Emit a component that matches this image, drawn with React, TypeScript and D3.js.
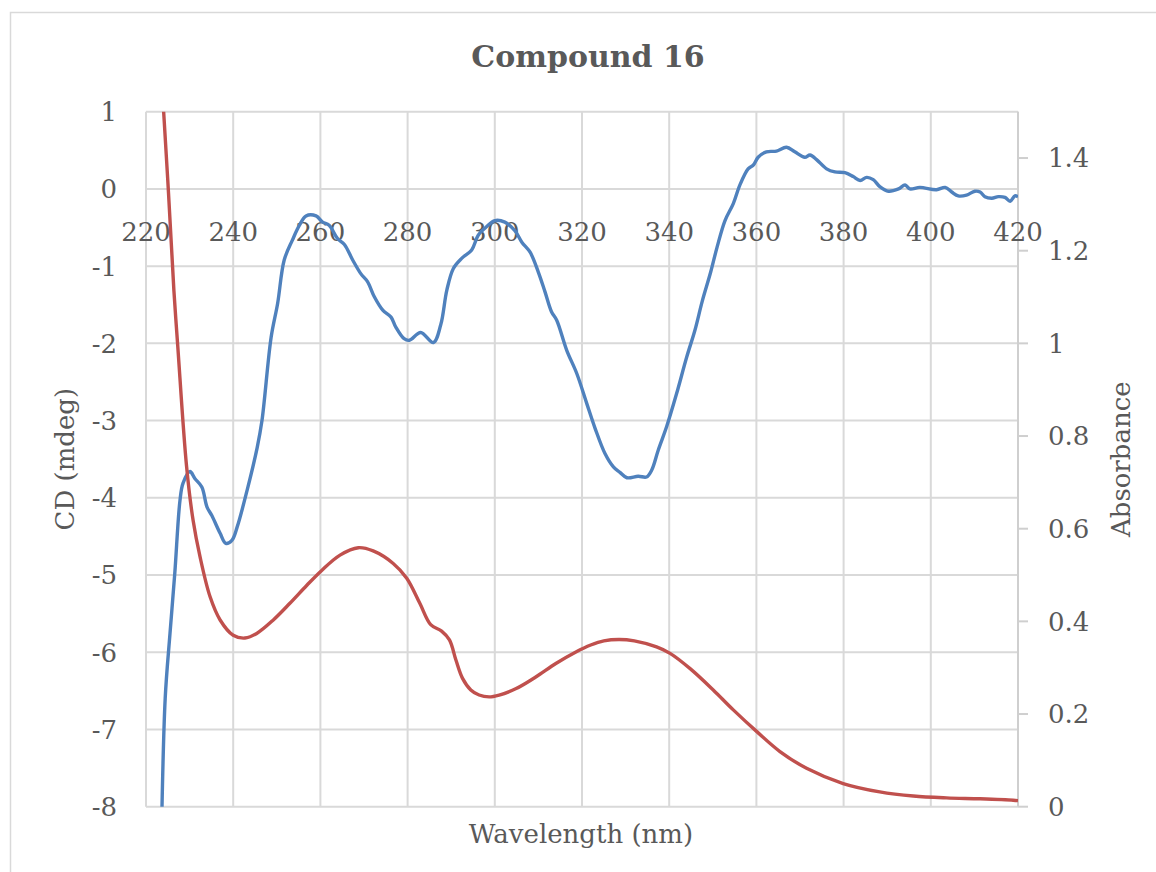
import React from "react";
import * as d3 from "d3";

// CD spectrum (mdeg) vs wavelength (nm)
const cdWavelength = [
  223.5, 224.4, 225.5, 226.6, 227.8, 228.5, 230.1, 231.2, 232.8, 234.0, 235.1, 237.0, 238.3, 239.7,
  240.9, 243.2, 245.5, 246.6, 248.7, 250.2, 251.7, 253.6, 255.2, 256.7, 259.0, 260.5, 262.0, 263.9,
  265.5, 267.4, 269.3, 270.8, 272.4, 274.3, 276.2, 277.3, 279.2, 280.4, 283.0, 285.9, 287.6, 289.0,
  290.5, 292.4, 294.7, 296.2, 298.1, 300.0, 302.3, 304.6, 306.2, 308.1, 310.0, 311.5, 313.0, 314.2,
  316.5, 318.8, 321.1, 323.0, 325.3, 327.2, 328.7, 330.3, 332.9, 334.8, 336.0, 337.5, 339.4, 341.7,
  344.0, 345.9, 347.6, 349.5, 351.0, 352.8, 354.7, 356.2, 358.1, 359.3, 360.4, 362.3, 364.6, 366.9,
  368.8, 371.1, 372.3, 373.8, 376.1, 378.0, 380.3, 382.2, 383.8, 385.3, 386.8, 388.3, 390.3, 392.6,
  394.1, 395.2, 397.5, 401.3, 403.3, 404.8, 406.3, 408.2, 410.1, 411.3, 412.4, 414.0, 415.5, 417.0,
  418.2, 419.3, 420.0,
];
const cdValues = [
  -8.5, -6.6, -5.76, -4.98, -4.03, -3.81, -3.66, -3.75, -3.86, -4.12, -4.23, -4.46, -4.59, -4.55,
  -4.38, -3.9, -3.35, -3.0, -1.92, -1.48, -0.92, -0.66, -0.47, -0.35, -0.35, -0.43, -0.47, -0.64,
  -0.72, -0.92, -1.1, -1.2, -1.4, -1.57, -1.66, -1.79, -1.94, -1.96, -1.86, -1.99, -1.76, -1.31,
  -1.03, -0.9, -0.79, -0.6, -0.49, -0.41, -0.43, -0.54, -0.69, -0.82, -1.08, -1.33, -1.59, -1.7,
  -2.09, -2.39, -2.78, -3.1, -3.43, -3.6, -3.67, -3.74, -3.72, -3.73, -3.64, -3.38, -3.08, -2.65,
  -2.18, -1.83, -1.45, -1.08, -0.75, -0.41, -0.19, 0.05, 0.26, 0.31, 0.41, 0.48, 0.49, 0.54,
  0.48, 0.41, 0.44, 0.38, 0.26, 0.22, 0.21, 0.16, 0.11, 0.15, 0.12, 0.03, -0.03, 0.0,
  0.05, 0.0, 0.02, -0.01, 0.02, -0.04, -0.09, -0.08, -0.03, -0.04, -0.1, -0.12, -0.1, -0.11,
  -0.16, -0.09, -0.1,
];

// UV absorbance vs wavelength (nm)
const absWavelength = [
  223.0, 225.0, 226.4, 227.3, 229.3, 230.8, 232.4, 234.7, 237.0, 240.0, 242.7, 245.4, 249.2,
  253.0, 256.9, 260.3, 264.5, 268.7, 272.1, 276.7, 279.8, 282.8, 285.3, 287.8, 289.6, 291.1, 292.6,
  294.5, 296.4, 298.7, 301.0, 304.9, 309.4, 314.0, 318.6, 322.0, 325.0, 328.5, 332.0, 337.1, 340.2,
  344.8, 350.1, 354.7, 360.1, 365.4, 371.5, 379.9, 388.3, 396.0, 403.6, 411.3, 418.9, 420.0,
];
const absValues = [
  1.66, 1.351, 1.114, 0.992, 0.735, 0.618, 0.539, 0.453, 0.403, 0.37, 0.364, 0.374, 0.403,
  0.439, 0.478, 0.51, 0.543, 0.559, 0.552, 0.525, 0.493, 0.439, 0.393, 0.379, 0.36, 0.316, 0.277,
  0.252, 0.241, 0.237, 0.241, 0.255, 0.28, 0.309, 0.334, 0.349, 0.358, 0.361, 0.358, 0.345, 0.331,
  0.298, 0.252, 0.209, 0.162, 0.119, 0.083, 0.05, 0.032, 0.023, 0.019, 0.017, 0.014, 0.013,
];

const xTicks = [220, 240, 260, 280, 300, 320, 340, 360, 380, 400, 420];
const cdTicks = [1, 0, -1, -2, -3, -4, -5, -6, -7, -8];
const absTicks = [0, 0.2, 0.4, 0.6, 0.8, 1, 1.2, 1.4];

const titleText = "Compound 16";
const xTitle = "Wavelength (nm)";
const cdTitle = "CD (mdeg)";
const absTitle = "Absorbance";

const FONT = "'DejaVu Serif', serif";
const TEXT = "#595959";
const GRID = "#d9d9d9";

export default function App() {
  const left = 146;
  const right = 1018;
  const top = 111.7;
  const bottom = 806.7;

  const x = d3.scaleLinear().domain([220, 420]).range([left, right]);
  const yCd = d3.scaleLinear().domain([-8, 1]).range([bottom, top]);
  const yAbs = d3.scaleLinear().domain([0, 1.5]).range([bottom, top]);

  const cdLine = d3
    .line<number>()
    .x((_, i) => x(cdWavelength[i]))
    .y((d) => yCd(d))
    .curve(d3.curveCatmullRom.alpha(0.5));
  const absLine = d3
    .line<number>()
    .x((_, i) => x(absWavelength[i]))
    .y((d) => yAbs(d))
    .curve(d3.curveCatmullRom.alpha(0.5));

  return (
    <svg
      width={1156}
      height={872}
      style={{ position: "absolute", left: 0, top: 0, background: "#fff" }}
    >
      <defs>
        <clipPath id="plot-clip">
          <rect x={left} y={top} width={right - left} height={bottom - top} />
        </clipPath>
      </defs>
      <rect x={10.5} y={12.5} width={1170} height={880} fill="#fff" stroke={GRID} strokeWidth={1.5} />

      <text
        x={588}
        y={67}
        textAnchor="middle"
        fontFamily={FONT}
        fontWeight="bold"
        fontSize={30}
        fill={TEXT}
      >
        {titleText}
      </text>

      {/* gridlines */}
      {cdTicks.map((t) => (
        <line key={"h" + t} x1={left} x2={right} y1={yCd(t)} y2={yCd(t)} stroke={GRID} strokeWidth={2} />
      ))}
      {xTicks.map((t) => (
        <line key={"v" + t} x1={x(t)} x2={x(t)} y1={top} y2={bottom} stroke={GRID} strokeWidth={2} />
      ))}

      {/* right axis line and ticks */}
      <line x1={right} x2={right} y1={top} y2={bottom} stroke="#cfcfcf" strokeWidth={2} />
      {absTicks.map((t) => (
        <line key={"rt" + t} x1={right} x2={right + 10} y1={yAbs(t)} y2={yAbs(t)} stroke="#cfcfcf" strokeWidth={2} />
      ))}

      {/* left tick labels */}
      {cdTicks.map((t) => (
        <text
          key={"lt" + t}
          x={117}
          y={yCd(t)}
          dy="0.36em"
          textAnchor="end"
          fontFamily={FONT}
          fontSize={26}
          fill={TEXT}
        >
          {t < 0 ? "-" + Math.abs(t) : String(t)}
        </text>
      ))}

      {/* right tick labels */}
      {absTicks.map((t) => (
        <text
          key={"rl" + t}
          x={1048}
          y={yAbs(t)}
          dy="0.36em"
          textAnchor="start"
          fontFamily={FONT}
          fontSize={26}
          fill={TEXT}
        >
          {d3.format("~g")(t)}
        </text>
      ))}

      {/* wavelength labels hanging below the zero line */}
      {xTicks.map((t) => (
        <text
          key={"xl" + t}
          x={x(t)}
          y={yCd(0) + 52}
          textAnchor="middle"
          fontFamily={FONT}
          fontSize={26}
          fill={TEXT}
        >
          {t}
        </text>
      ))}

      {/* axis titles */}
      <text x={581} y={843} textAnchor="middle" fontFamily={FONT} fontSize={26} fill={TEXT}>
        {xTitle}
      </text>
      <text
        transform={`translate(74,${(top + bottom) / 2}) rotate(-90)`}
        textAnchor="middle"
        fontFamily={FONT}
        fontSize={26}
        fill={TEXT}
      >
        {cdTitle}
      </text>
      <text
        transform={`translate(1130,${(top + bottom) / 2}) rotate(-90)`}
        textAnchor="middle"
        fontFamily={FONT}
        fontSize={26}
        fill={TEXT}
      >
        {absTitle}
      </text>

      {/* series */}
      <g clipPath="url(#plot-clip)">
        <path d={cdLine(cdValues) ?? ""} fill="none" stroke="#4f81bd" strokeWidth={3.4} strokeLinejoin="round" />
        <path d={absLine(absValues) ?? ""} fill="none" stroke="#c0504d" strokeWidth={3.4} strokeLinejoin="round" />
      </g>
    </svg>
  );
}
